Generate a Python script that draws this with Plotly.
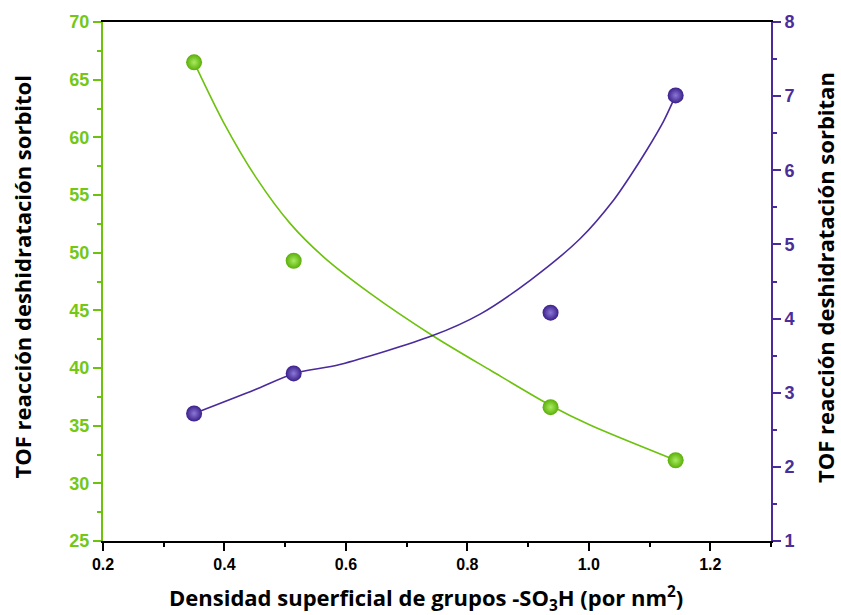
import plotly.graph_objects as go

# Measured TOF values vs. surface density of -SO3H groups
density = [0.350, 0.514, 0.937, 1.143]
tof_sorbitol = [66.5, 49.3, 36.6, 32.0]
tof_sorbitan = [2.72, 3.26, 4.08, 7.01]

# Fitted trend curves (sampled along each fit line)
fit_x_sorbitol = [0.350, 0.398, 0.453, 0.508, 0.563, 0.640, 0.743, 0.838, 0.937, 1.002, 1.143]
fit_y_sorbitol = [66.5, 61.35, 56.44, 52.54, 49.64, 46.47, 42.8, 39.8, 36.75, 35.05, 32.0]
fit_x_sorbitan = [0.350, 0.450, 0.515, 0.590, 0.743, 0.821, 0.904, 0.986, 1.041,
                  1.068, 1.096, 1.123, 1.143]
fit_y_sorbitan = [2.72, 3.04, 3.26, 3.38, 3.77, 4.06, 4.52, 5.08, 5.60,
                  5.92, 6.28, 6.66, 7.01]

GREEN = "#6cc20c"
GREEN_TXT = "#74c814"
PURPLE = "#4a2a9c"
PURPLE_TXT = "#4b2e9a"

fig = go.Figure()

fig.add_trace(go.Scatter(
    x=fit_x_sorbitol, y=fit_y_sorbitol, mode="lines",
    line=dict(color=GREEN, width=1.6, shape="spline", smoothing=0.8),
    yaxis="y", showlegend=False, hoverinfo="skip"))
fig.add_trace(go.Scatter(
    x=fit_x_sorbitan, y=fit_y_sorbitan, mode="lines",
    line=dict(color=PURPLE, width=1.6, shape="spline", smoothing=0.8),
    yaxis="y2", showlegend=False, hoverinfo="skip"))

fig.add_trace(go.Scatter(
    x=density, y=tof_sorbitol, mode="markers",
    marker=dict(size=16, color="#5aae08", line=dict(width=0),
                gradient=dict(type="radial", color="#a8ec60")),
    yaxis="y", showlegend=False))
fig.add_trace(go.Scatter(
    x=density, y=tof_sorbitan, mode="markers",
    marker=dict(size=16, color="#3a1f88", line=dict(width=0),
                gradient=dict(type="radial", color="#8c78d8")),
    yaxis="y2", showlegend=False))

tick_font_x = dict(family="Liberation Sans", size=16, color="black", weight="bold")
title_font = dict(family="Open Sans", size=22, color="black", weight="bold")

fig.update_layout(
    width=841, height=615,
    margin=dict(l=103, r=70, t=22, b=74),
    paper_bgcolor="white", plot_bgcolor="white",
    xaxis=dict(
        range=[0.2, 1.3], dtick=0.2, tick0=0.2, tickformat=".1f",
        showline=True, linecolor="black", linewidth=2, mirror=True,
        ticks="outside", ticklen=8, tickwidth=2, tickcolor="black",
        minor=dict(dtick=0.1, ticks="outside", ticklen=4, tickwidth=2,
                   tickcolor="black", showgrid=False),
        showgrid=False, zeroline=False, tickfont=tick_font_x,
    ),
    yaxis=dict(
        range=[25, 70], dtick=5,
        showline=True, linecolor=GREEN, linewidth=2,
        ticks="outside", ticklen=8, tickwidth=2, tickcolor=GREEN,
        minor=dict(dtick=2.5, ticks="outside", ticklen=4, tickwidth=2,
                   tickcolor=GREEN, showgrid=False),
        showgrid=False, zeroline=False,
        tickfont=dict(family="Liberation Sans", size=18, color=GREEN_TXT, weight="bold"),
    ),
    yaxis2=dict(
        range=[1, 8], dtick=1, overlaying="y", side="right",
        showline=True, linecolor=PURPLE, linewidth=2,
        ticks="outside", ticklen=8, tickwidth=2, tickcolor=PURPLE,
        minor=dict(dtick=0.5, ticks="outside", ticklen=4, tickwidth=2,
                   tickcolor=PURPLE, showgrid=False),
        showgrid=False, zeroline=False,
        tickfont=dict(family="Liberation Sans", size=18, color=PURPLE_TXT, weight="bold"),
    ),
    annotations=[
        dict(text="Densidad superficial de grupos -SO<sub>3</sub>H (por nm<sup>2</sup>)",
             xref="paper", yref="paper", x=0.4835, y=-0.111,
             xanchor="center", yanchor="middle", showarrow=False, font=title_font),
        dict(text="TOF reacción deshidratación sorbitol",
             xref="paper", yref="paper", x=-0.1213, y=0.5096, textangle=-90,
             xanchor="center", yanchor="middle", showarrow=False, font=title_font),
        dict(text="TOF reacción deshidratación sorbitan",
             xref="paper", yref="paper", x=1.0808, y=0.5087, textangle=-90,
             xanchor="center", yanchor="middle", showarrow=False, font=title_font),
    ],
)

fig.write_html("out.html")
